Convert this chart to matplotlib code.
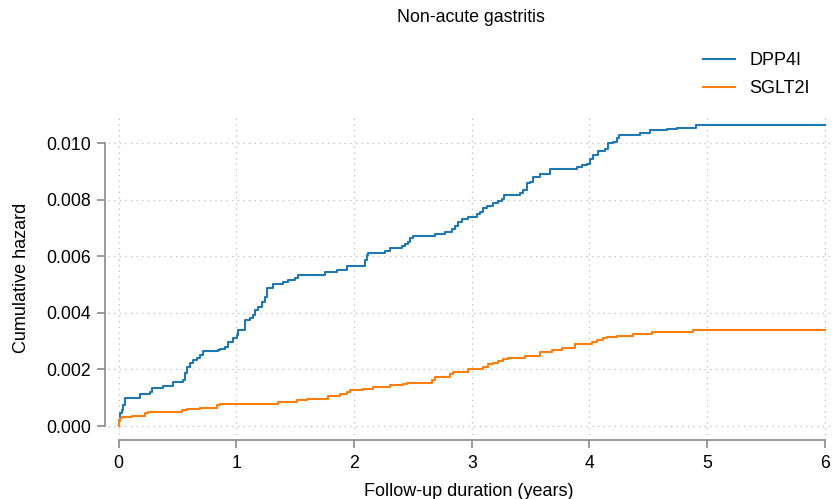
import matplotlib
matplotlib.use("Agg")
import matplotlib.pyplot as plt

plt.rcParams['font.family'] = ['Liberation Sans', 'DejaVu Sans']

title = "Non-acute gastritis"
xlabel = "Follow-up duration (years)"
ylabel = "Cumulative hazard"
series_names = ["DPP4I", "SGLT2I"]
colors = ["#1f77b4", "#ff7f0e"]

xticks = [0, 1, 2, 3, 4, 5, 6]
yticks = [0.000, 0.002, 0.004, 0.006, 0.008, 0.010]

dpp4i_t = [0.000, 0.004, 0.0127, 0.0272, 0.0408, 0.0552, 0.1826, 0.2675, 0.2820, 0.3805,
           0.4654, 0.5503, 0.5648, 0.5792, 0.6072, 0.6352, 0.6641, 0.6921, 0.7202, 0.8476,
           0.8620, 0.9045, 0.9325, 0.9749, 1.0038, 1.0174, 1.0743, 1.1168, 1.1448, 1.1592,
           1.1873, 1.2161, 1.2442, 1.2586, 1.3146, 1.3996, 1.4420, 1.4989, 1.5270, 1.7537,
           1.8531, 1.9431, 2.0934, 2.1079, 2.1214, 2.2633, 2.3057, 2.4051, 2.4331, 2.4612,
           2.4756, 2.5036, 2.6879, 2.7728, 2.8297, 2.8577, 2.8858, 2.9146, 2.9707, 3.0420,
           3.0701, 3.0981, 3.1270, 3.1830, 3.2255, 3.2544, 3.2739, 3.4098, 3.4378, 3.4667,
           3.4947, 3.5227, 3.5796, 3.6645, 3.8913, 3.9338, 3.9762, 4.0042, 4.0323, 4.0747,
           4.1316, 4.1597, 4.2021, 4.2310, 4.2531, 4.4289, 4.4569, 4.5138, 4.6556, 4.7406,
           4.9020, 6.000]
dpp4i_h = [0.000000, 0.000212, 0.000449, 0.000566, 0.000743, 0.000980, 0.001132, 0.001213, 0.001334, 0.001415,
           0.001567, 0.001627, 0.001864, 0.002098, 0.002218, 0.002335, 0.002395, 0.002511, 0.002653, 0.002688,
           0.002724, 0.002784, 0.002982, 0.003102, 0.003219, 0.003396, 0.003750, 0.003810, 0.003926, 0.004103,
           0.004220, 0.004397, 0.004574, 0.004881, 0.005012, 0.005104, 0.005164, 0.005225, 0.005341, 0.005458,
           0.005518, 0.005660, 0.005872, 0.006049, 0.006130, 0.006190, 0.006286, 0.006367, 0.006438, 0.006519,
           0.006640, 0.006732, 0.006781, 0.006873, 0.006958, 0.007074, 0.007224, 0.007312, 0.007404, 0.007499,
           0.007581, 0.007722, 0.007782, 0.007878, 0.007959, 0.008019, 0.008171, 0.008231, 0.008348, 0.008606,
           0.008642, 0.008819, 0.008914, 0.009080, 0.009172, 0.009232, 0.009268, 0.009434, 0.009586, 0.009738,
           0.009788, 0.010000, 0.010057, 0.010177, 0.010294, 0.010354, 0.010375, 0.010470, 0.010506, 0.010552,
           0.010637, 0.010637]

sglt2i_t = [0.000, 0.0042, 0.0127, 0.0272, 0.1121, 0.2251, 0.2531, 0.3100, 0.5367, 0.5792,
            0.6921, 0.8340, 0.8620, 1.3571, 1.5134, 1.5983, 1.7817, 1.8811, 1.9380, 1.9660,
            2.0790, 2.1639, 2.3057, 2.4187, 2.4476, 2.6599, 2.6879, 2.8153, 2.8433, 2.9707,
            3.0981, 3.1406, 3.1830, 3.2255, 3.2680, 3.3105, 3.4522, 3.5796, 3.6790, 3.7639,
            3.8769, 4.0187, 4.0611, 4.1172, 4.1461, 4.2310, 4.3720, 4.5282, 4.8815, 6.000]
sglt2i_h = [0.000000, 0.000177, 0.000272, 0.000329, 0.000364, 0.000449, 0.000485, 0.000506, 0.000566, 0.000612,
            0.000647, 0.000743, 0.000778, 0.000838, 0.000920, 0.000944, 0.001079, 0.001132, 0.001213, 0.001256,
            0.001298, 0.001390, 0.001450, 0.001486, 0.001532, 0.001627, 0.001723, 0.001839, 0.001921, 0.001999,
            0.002098, 0.002183, 0.002239, 0.002310, 0.002359, 0.002395, 0.002476, 0.002607, 0.002688, 0.002770,
            0.002901, 0.002982, 0.003042, 0.003102, 0.003159, 0.003194, 0.003254, 0.003336, 0.003396, 0.003396]

fig = plt.figure(figsize=(8.33, 4.99), dpi=100)
ax = fig.add_axes([108/833, 1 - 440/499, (830-108)/833, (440-115)/499])

ax.plot(dpp4i_t, dpp4i_h, drawstyle='steps-post', color=colors[0], lw=1.5, label=series_names[0])
ax.plot(sglt2i_t, sglt2i_h, drawstyle='steps-post', color=colors[1], lw=1.5, label=series_names[1])

ax.set_xlim(-0.0892, 6.0425)
ax.set_ylim(-0.000495, 0.011001)
ax.set_xticks(xticks)
ax.set_xticklabels([str(v) for v in xticks])
ax.set_yticks(yticks)
ax.set_yticklabels([f"{v:.3f}" for v in yticks])

ax.grid(True, color='#bdbdbd', linestyle=(0, (1, 3.5)), linewidth=0.9)
ax.set_axisbelow(True)

spine_color = '#8a8a8a'
for s in ['top', 'right']:
    ax.spines[s].set_visible(False)
ax.spines['left'].set_bounds(0, 0.010)
ax.spines['left'].set_position(('outward', 2))
ax.spines['bottom'].set_bounds(0, 6)
ax.spines['left'].set_color(spine_color)
ax.spines['bottom'].set_color(spine_color)
ax.spines['left'].set_linewidth(1.2)
ax.spines['bottom'].set_linewidth(1.2)
ax.tick_params(axis='both', colors=spine_color, labelcolor='black', labelsize=12.7,
               length=6, width=1.2, direction='out')
ax.tick_params(axis='y', pad=4)
ax.tick_params(axis='x', pad=5)

ax.set_xlabel(xlabel, fontsize=13, labelpad=8)
ax.set_ylabel(ylabel, fontsize=13, labelpad=12)

fig.text(471/833, 1 - 18/499, title, ha='center', va='center', fontsize=12.8)

ax.legend(loc='upper left', bbox_to_anchor=(703/833, 1 - 52/499), bbox_transform=fig.transFigure,
          frameon=False, fontsize=13, borderpad=0, borderaxespad=0, handlelength=1.75,
          handletextpad=0.8, labelspacing=0.6)

fig.savefig("out.png", dpi=100)
